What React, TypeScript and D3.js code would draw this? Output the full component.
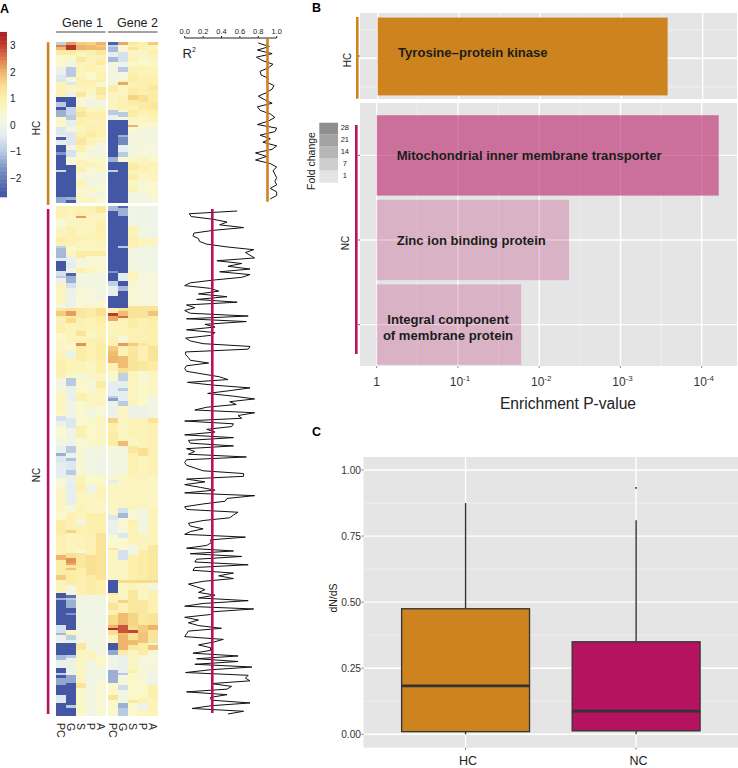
import React from 'react'
import * as d3 from 'd3'

type Run = [number, number]

// heat map runs: [row where the run stops, z score]
const hcGene1: Run[][] = [
  [[1,-.9],[2,2.4],[3,1.9],[5,1.1],[10,.45],[13,-.2],[16,-.5],[22,.85],[24,-2.6],[26,-1],[27,-2.6],[30,-1.3],[34,.5],[37,-.5],[38,-.1],[39,-2.5],[41,-.3],[44,-2.6],[45,-1.6],[51,-2.6],[52,-.7],[62,-2.6],[64,-1.4]],
  [[1,2.2],[3,3.1],[5,1.1],[7,.5],[10,.1],[14,-1],[16,.2],[17,-.5],[20,.6],[22,-.1],[26,-2.6],[29,-.8],[31,-1],[34,-.3],[36,.1],[41,-.5],[43,.1],[46,-.6],[49,.2],[62,-2.6],[63,-1.3],[64,-2.5]],
  [[1,1.7],[3,2],[4,1.1],[6,.7],[8,1.2],[12,.8],[14,.6],[18,.9],[20,.7],[22,1.2],[26,.3],[28,1.1],[30,1.3],[33,1],[36,.7],[38,.9],[41,1.2],[44,.9],[47,.4],[50,.7],[52,.9],[55,.2],[58,.8],[60,.3],[64,.5]],
  [[1,1.6],[3,1.9],[5,1],[9,.8],[12,.9],[15,.5],[18,.9],[21,.6],[23,.3],[26,0],[28,.7],[31,1],[33,.8],[36,.9],[38,1.1],[41,.8],[43,.3],[46,.1],[48,.5],[50,.8],[53,.3],[58,.1],[60,.5],[62,.2],[64,.6]],
  [[1,2],[2,1.7],[3,1.9],[5,1.2],[7,.9],[9,1.1],[12,.7],[16,.9],[18,.5],[21,1.2],[23,.9],[26,.1],[28,.8],[30,1],[38,.9],[40,.7],[43,.2],[46,.1],[49,.5],[52,.6],[57,.1],[60,.3],[62,.1],[64,.4]],
]
const hcGene2: Run[][] = [
  [[1,-2.4],[2,-.8],[4,-1.2],[6,-.3],[8,-1.2],[17,.1],[20,1.1],[27,.7],[29,-1],[31,-.2],[46,-2.6],[48,-1.3],[51,-2.6],[52,-.9],[64,-2.6]],
  [[1,2.1],[4,.3],[8,-.6],[10,-.1],[12,-1],[15,.2],[16,.6],[17,2.1],[22,.7],[27,.9],[28,.3],[30,-1],[31,.2],[37,-2.6],[38,-1.3],[41,-1.8],[44,-.3],[46,-1],[48,.4],[64,-2.6]],
  [[1,1.2],[2,1],[3,1.3],[6,.6],[8,.8],[10,.5],[13,.9],[16,1.1],[18,.9],[21,1.1],[23,1.6],[25,1.1],[27,.8],[30,1.1],[32,.7],[33,.2],[34,2],[36,.4],[46,.1],[48,.5],[49,1],[51,1.1],[53,.8],[55,1.1],[58,.6],[60,.8],[64,.1]],
  [[1,1],[3,.9],[6,.6],[9,.4],[13,.8],[17,.9],[21,1],[24,1.4],[27,1.1],[29,.9],[32,.6],[34,.5],[38,.1],[46,.2],[49,.7],[52,.9],[55,.6],[60,.3],[64,.1]],
  [[1,1.7],[3,.8],[5,1],[8,.7],[10,.5],[14,.8],[17,1],[19,1.2],[24,1.1],[27,1.2],[29,1],[32,.8],[34,.4],[40,.1],[46,.2],[48,.5],[52,.8],[56,.7],[60,.4],[62,.5],[64,.2]],
]
const ncGene1: Run[][] = [
  [[5,.9],[9,.3],[13,.8],[14,1.1],[16,.9],[17,-.9],[21,-1.2],[22,-.4],[26,-2.6],[28,-.6],[29,-1],[31,-.1],[39,.7],[41,.1],[42,1.2],[44,1.7],[45,1.1],[48,.9],[51,1],[54,.5],[58,.6],[62,.8],[66,1],[69,.9],[74,.1],[82,.7],[84,.5],[86,-.6],[88,-.2],[93,.4],[96,.1],[99,-.2],[100,-1.3],[103,-.5],[109,-.4],[113,.3],[123,.6],[126,.4],[132,1.1],[140,.9],[142,2],[148,1.1],[150,1.7],[155,.8],[157,-2.6],[158,-1.3],[168,-2.6],[171,-.6],[172,-1.2],[175,-.1],[180,-2.6],[182,-1.2],[185,-.2],[187,-2.6],[188,-.9],[189,-2.6],[192,-1.4],[196,-2.6],[199,-.5],[204,-2.6]],
  [[4,.8],[8,.6],[16,.9],[18,.5],[20,.6],[23,-.2],[25,-.4],[27,0],[28,-2.4],[31,-1.3],[33,-.6],[41,-.1],[42,1.3],[44,2.2],[45,1.1],[47,1.5],[55,.8],[58,.5],[61,-.2],[67,.8],[69,.5],[72,-1],[78,-.2],[85,0],[89,-.5],[96,0],[99,-1],[101,-.1],[102,-1.1],[106,-.5],[108,-1],[111,-.2],[120,-.3],[123,.3],[130,.9],[131,1.6],[139,.7],[141,1.4],[143,2.3],[144,2.1],[145,1.2],[146,1.8],[152,1.1],[156,.1],[157,-2.2],[158,-1],[161,-1.3],[163,-2.6],[164,-1.6],[170,-2.6],[172,.6],[174,-.9],[175,-.3],[180,-2.6],[181,-1],[188,-.1],[191,-1.4],[200,-2.6],[201,-1],[204,-2.6]],
  [[4,.9],[5,2.2],[12,.7],[14,.9],[18,.7],[21,1.1],[25,.2],[27,1],[33,.1],[37,.3],[41,.4],[45,1.2],[50,.9],[52,1.3],[55,.8],[56,2.3],[62,1.1],[67,.8],[69,.1],[75,.5],[78,1],[88,.4],[89,1],[93,.9],[108,.3],[111,.8],[114,1],[120,.7],[126,.8],[128,.1],[132,.9],[138,.8],[139,.2],[145,1.2],[150,1],[156,.9],[165,.05],[175,.1],[178,1.2],[191,.6],[193,1.3],[204,.5]],
  [[3,.9],[10,.7],[14,.8],[18,.6],[20,1.1],[24,.3],[27,.6],[33,.1],[40,.2],[41,.6],[45,1.1],[50,.8],[53,.6],[62,.9],[69,.6],[74,.3],[81,.6],[85,.1],[96,.5],[108,.05],[112,.4],[115,-.05],[123,.6],[131,1],[140,.9],[148,1.4],[156,1.1],[178,.05],[182,.7],[191,.05],[204,.1]],
  [[3,1.2],[6,.7],[10,1],[14,.9],[18,.7],[20,1.1],[24,.3],[27,.5],[38,.1],[41,.4],[44,1.4],[47,1.1],[55,.9],[62,1.1],[67,1],[70,.6],[73,1.1],[80,.7],[84,.3],[96,.6],[100,.1],[108,0],[112,.5],[118,.8],[123,.6],[131,1],[150,1.3],[156,1],[170,.05],[180,.1],[185,.5],[190,.05],[204,.3]],
]
const ncGene2: Run[][] = [
  [[2,-1.2],[26,-2.6],[27,-1.6],[30,-2.6],[32,-.9],[36,-.3],[41,-2.6],[43,.9],[44,3],[46,2.1],[52,.7],[56,.9],[58,1.7],[60,1.9],[63,2],[66,.9],[70,.5],[76,-.4],[77,-.9],[78,-1.5],[85,-.1],[87,1.6],[90,1],[96,1.1],[100,.2],[108,.1],[110,.3],[111,-.4],[124,.6],[126,-.5],[132,-.2],[137,.4],[138,1.2],[150,.6],[155,-2.6],[156,1.1],[159,.8],[162,1.3],[164,.9],[168,1.5],[169,2],[170,3.2],[172,1.4],[175,.8],[178,-2.6],[180,-1.4],[186,0],[191,-1.3],[196,.5],[198,1.3],[204,.5]],
  [[1,-2.4],[4,-1.3],[16,-2.6],[17,-1],[27,-2.6],[30,-.4],[32,-2.6],[34,-1.2],[41,-2.6],[42,1.3],[44,1.9],[45,2.6],[52,.8],[55,.3],[56,2.2],[60,.9],[65,1.9],[67,1.4],[70,-.9],[73,-.3],[74,-1],[78,-.4],[80,-1],[94,.6],[96,1.9],[108,.1],[121,.6],[123,-.6],[125,-1.2],[131,.3],[133,-.5],[138,.4],[142,-.6],[150,.6],[151,1.5],[158,.6],[159,1.6],[163,.9],[168,1.9],[171,2.8],[172,1.9],[178,2],[180,1.1],[187,-.2],[188,-1],[192,.2],[194,-.7],[199,.1],[201,-1.3],[204,-1]],
  [[8,.05],[12,.8],[17,.9],[26,.1],[30,.7],[40,.3],[45,1.3],[49,1.1],[55,.9],[56,1.7],[59,1.2],[66,1.3],[80,.7],[85,-.1],[93,.8],[96,.6],[99,1.2],[108,.9],[122,.7],[126,.3],[128,1],[136,.8],[140,.1],[150,1],[151,1.5],[154,.8],[163,1.2],[168,1.6],[170,1.5],[171,2.9],[174,1.4],[176,1.9],[178,1.2],[186,.6],[187,1],[198,.5],[199,1.2],[204,.4]],
  [[8,0],[13,.1],[16,.7],[27,.05],[40,.2],[45,1.3],[55,.9],[56,1.2],[62,.9],[66,1.2],[71,.3],[80,.5],[85,-.1],[97,.8],[100,1.4],[108,.7],[121,.7],[131,.1],[138,.7],[150,1.1],[151,1.5],[158,.6],[168,1.2],[171,1.7],[175,1.8],[180,1.1],[186,.2],[192,.3],[197,.5],[199,.9],[202,-.05],[204,.6]],
  [[13,0],[16,.7],[27,.05],[40,.2],[42,1.3],[44,1.8],[46,1.1],[56,1],[62,1.3],[66,1.1],[76,.6],[85,.05],[87,1.3],[108,.9],[121,.6],[136,.8],[150,1.2],[151,1.5],[154,.1],[163,.9],[168,1.3],[170,2],[175,1.3],[176,.1],[178,1.8],[186,.2],[192,0],[197,1],[204,.8]],
]
const tissues = ['PC', 'G', 'S', 'P', 'A']
const colorTicks = [3, 2, 1, 0, -1, -2]

const hcR2 = [.8,.92,.79,.95,.78,.85,.96,.91,.82,.83,.91,.89,.97,.95,.89,.8,.87,.95,.79,.82,.93,.98,.91,.79,1,.98,.82,.93,.85,1,.95,.77,.89,.77,.93,1,.96,.98,1,.98,1,.93,1,1,.93]
const ncR2 = [
  .57,.05,.07,.31,.46,.38,.64,.31,.1,.09,.15,.16,.24,.46,.75,.66,.71,.76,.35,.62,.47,.71,.38,.71,.62,.31,.06,0,.28,.37,.15,.46,.13,.57,.02,
  .11,0,.06,.69,.02,.67,.22,.33,.02,.33,.28,.01,.06,.2,.71,.69,.01,.01,.04,.06,.26,.02,0,.02,.2,.38,.47,.03,.31,.71,.49,.25,.53,.76,.49,.56,.24,.11,.76,.58,.62,0,.53,.51,.24,.33,0,.53,.04,.06,.53,.02,.11,.04,.67,.02,0,.02,.11,.2,.64,.64,
  .02,.22,0,.17,.33,0,.76,.46,.44,.2,0,.02,.58,.53,.49,.2,.04,.06,.2,.06,0,.66,.28,.29,.24,.02,.53,.06,.62,.13,.11,.69,.11,.09,.53,.37,.53,.2,.04,.13,.22,.15,.33,.15,.69,.2,0,.75,.31,.28,0,.15,.04,.15,.4,.04,.02,0,.42,.31,.15,.28,.28,.09,.58,.13,.58,.11,.73,.28,.01,.69,.66,.71,.29,.51,.46,.02,.46,.28,.29,.71,.29,.08,.64,.47,
]
const r2Ticks = [0, .2, .4, .6, .8, 1]
const hcMeanR2 = .9
const ncMeanR2 = .3

const hcTerms = ['Tyrosine\u2013protein kinase']
const ncTerms = ['Mitochondrial inner membrane transporter', 'Zinc ion binding protein', 'Integral component of membrane protein']
const hcEnrich = [3700]
const ncEnrich = [16200, 233, 60]
const ncOpacity = [.56, .24, .24]
const enrichTicks = [1, 10, 100, 1000, 10000]
const enrichMinor = [3.162, 31.62, 316.2, 3162, 31620]
const enrichLabels = ['', '-1', '-2', '-3', '-4']
const foldLevels = ['28', '21', '14', '7', '1']
const foldGreys = ['#8f8f8f', '#a2a2a2', '#b6b6b6', '#cecece', '#e4e4e4']

const groups = ['HC', 'NC']
const boxStats = [
  { low: 0, q1: .01, med: .183, q3: .475, high: .875, out: [] as number[] },
  { low: 0, q1: .013, med: .088, q3: .35, high: .81, out: [.932] },
]
const dnTicks = [0, .25, .5, .75, 1]
const dnMinor = [.125, .375, .625, .875]

const ORANGE = '#cd831e'
const MAGENTA = '#b5135f'
const PANEL = '#e5e5e5'
const FONT = '"Liberation Sans", Arial, sans-serif'

const heatColor = d3.scaleLinear<string>()
  .domain([-2.6, -1.6, -1, -.4, 0, .4, 1, 1.5, 2, 2.5, 3, 3.45])
  .range(['#4357a5', '#7f95c4', '#b9cbe2', '#e4edf0', '#f0f4e6', '#f9f8cf', '#fcf0ac', '#f8dc8c', '#eeb46c', '#d8784a', '#c23a2b', '#a51e22'])
  .clamp(true)

const expand = (runs: Run[]) => {
  const out: number[] = []
  runs.forEach(([end, v]) => { while (out.length < end) out.push(v) })
  return out
}

const HeatBlock = ({ cols, x, y }: { cols: Run[][]; x: d3.ScaleBand<string>; y: d3.ScaleBand<number> }) => (
  <g shapeRendering="crispEdges">
    {cols.map((runs, c) => expand(runs).map((v, r) => (
      <rect key={`${c}-${r}`} x={x(tissues[c])} y={y(r)} width={x.bandwidth()} height={y.bandwidth() + .5} fill={heatColor(v)} />
    )))}
  </g>
)

const PanelA = () => {
  const xG1 = d3.scaleBand<string>().domain(tissues).range([55.5, 105.5])
  const xG2 = d3.scaleBand<string>().domain(tissues).range([107.5, 157.5])
  const yHC = d3.scaleBand<number>().domain(d3.range(64)).range([42, 202])
  const yNC = d3.scaleBand<number>().domain(d3.range(204)).range([206, 715])
  const zAxis = d3.scaleLinear().domain([3, -2]).range([45.5, 178.5])
  const zBins = d3.range(-2.7, 3.46, .05)
  const r2 = d3.scaleLinear().domain([0, 1]).range([184.7, 276.7])
  const yHcLine = d3.scaleLinear().domain([0, hcR2.length - 1]).range([43, 199])
  const yNcLine = d3.scaleLinear().domain([0, ncR2.length - 1]).range([211, 714])
  const hcPath = d3.line<number>().x(d => r2(d)).y((_, i) => yHcLine(i))(hcR2) as string
  const ncPath = d3.line<number>().x(d => r2(d)).y((_, i) => yNcLine(i))(ncR2) as string

  return (
    <g>
      <text x={0} y={13} fontSize={12.5} fontWeight="bold">A</text>
      {zBins.map(z => (
        <rect key={z} x={0} y={zAxis(z) - 1.6} width={7} height={1.8} fill={heatColor(z)} />
      ))}
      {colorTicks.map(t => (
        <text key={t} x={10} y={zAxis(t)} dy=".35em" fontSize={10} fill="#222">{t < 0 ? `\u2212${-t}` : t}</text>
      ))}

      <text x={82.5} y={27} textAnchor="middle" fontSize={12.5} fill="#222">Gene 1</text>
      <text x={137.5} y={27} textAnchor="middle" fontSize={12.5} fill="#222">Gene 2</text>
      <line x1={56} x2={105.5} y1={32} y2={32} stroke="#444" />
      <line x1={108} x2={157.5} y1={32} y2={32} stroke="#444" />

      <rect x={46.8} y={42.3} width={2.6} height={162.7} fill={ORANGE} />
      <rect x={46.8} y={209} width={2.6} height={505} fill={MAGENTA} />
      <text transform="translate(40,128) rotate(-90)" textAnchor="middle" fontSize={10} fill="#222">HC</text>
      <text transform="translate(40,475) rotate(-90)" textAnchor="middle" fontSize={10} fill="#222">NC</text>

      <HeatBlock cols={hcGene1} x={xG1} y={yHC} />
      <HeatBlock cols={hcGene2} x={xG2} y={yHC} />
      <HeatBlock cols={ncGene1} x={xG1} y={yNC} />
      <HeatBlock cols={ncGene2} x={xG2} y={yNC} />

      {[xG1, xG2].map((x, k) => tissues.map(t => (
        <text key={`${k}${t}`} transform={`translate(${(x(t) as number) + x.bandwidth() / 2 - 3.5},723) rotate(90)`} fontSize={10.5} fill="#222">{t}</text>
      )))}

      <line x1={r2(0)} x2={r2(1)} y1={38} y2={38} stroke="#222" />
      {r2Ticks.map(t => (
        <g key={t}>
          <line x1={r2(t)} x2={r2(t)} y1={36} y2={38} stroke="#222" />
          <text x={r2(t)} y={34} textAnchor="middle" fontSize={7.5} fill="#222">{t.toFixed(1)}</text>
        </g>
      ))}
      <text x={182.5} y={58} fontSize={13} fill="#222">R</text>
      <text x={192} y={52} fontSize={7} fill="#222">2</text>

      <path d={hcPath} fill="none" stroke="#111" strokeWidth={1} />
      <line x1={r2(hcMeanR2)} x2={r2(hcMeanR2)} y1={38} y2={201.7} stroke={ORANGE} strokeWidth={2.6} />
      <path d={ncPath} fill="none" stroke="#111" strokeWidth={1} />
      <line x1={r2(ncMeanR2)} x2={r2(ncMeanR2)} y1={209} y2={713} stroke={MAGENTA} strokeWidth={2.6} />
    </g>
  )
}

const PanelB = () => {
  const x = d3.scaleLog().domain([1, 10000]).range([376.7, 701.7])
  const yHC = d3.scaleBand<string>().domain(hcTerms).range([13.5, 99.5]).padding(.05)
  const yNC = d3.scaleBand<string>().domain(ncTerms).range([111, 369]).padding(.05)
  const hcMid = (yHC(hcTerms[0]) as number) + yHC.bandwidth() / 2
  const ncMid = (t: string) => (yNC(t) as number) + yNC.bandwidth() / 2

  return (
    <g fontFamily={FONT}>
      <text x={312} y={12} fontSize={12.5} fontWeight="bold">B</text>
      <rect x={360} y={13} width={377} height={86} fill={PANEL} />
      <rect x={360} y={103} width={377} height={263} fill={PANEL} />

      {enrichMinor.map(t => t < 16000 && (
        <g key={t} stroke="#f1f1f1" strokeWidth={.8}>
          <line x1={x(t) + 1} x2={x(t) + 1} y1={13} y2={99} />
          <line x1={x(t)} x2={x(t)} y1={103} y2={366} />
        </g>
      ))}
      {enrichTicks.map(t => (
        <g key={t} stroke="#fff" strokeWidth={1.4}>
          <line x1={x(t) + 1} x2={x(t) + 1} y1={13} y2={99} />
          <line x1={x(t)} x2={x(t)} y1={103} y2={366} />
        </g>
      ))}
      <g stroke="#f4f4f4" strokeWidth={.8}>
        <line x1={360} x2={737} y1={30} y2={30} />
        <line x1={360} x2={737} y1={87} y2={87} />
      </g>
      <line x1={360} x2={737} y1={58.3} y2={58.3} stroke="#fff" strokeWidth={1.4} />
      {ncTerms.map(t => (
        <line key={t} x1={360} x2={737} y1={ncMid(t)} y2={ncMid(t)} stroke="#fff" strokeWidth={1.4} />
      ))}

      <rect x={x(1) + 1} y={yHC(hcTerms[0])} width={x(hcEnrich[0]) - x(1)} height={yHC.bandwidth()} fill={ORANGE} />
      {ncTerms.map((t, i) => (
        <rect key={t} x={x(1)} y={yNC(t)} width={x(ncEnrich[i]) - x(1)} height={yNC.bandwidth()} fill={MAGENTA} fillOpacity={ncOpacity[i]} />
      ))}

      <g fontSize={13.1} fontWeight="bold" fill="#1d1d1b">
        <text x={398} y={hcMid - 4} dy=".35em">{hcTerms[0]}</text>
        <text x={396.7} y={ncMid(ncTerms[0])} dy=".35em">{ncTerms[0]}</text>
        <text x={396.7} y={ncMid(ncTerms[1])} dy=".35em">{ncTerms[1]}</text>
        <text x={448} y={324} textAnchor="middle">Integral component</text>
        <text x={448} y={339.5} textAnchor="middle">of membrane protein</text>
      </g>

      <rect x={356} y={17} width={2.6} height={81.7} fill={ORANGE} />
      <rect x={355} y={125} width={2.6} height={229} fill={MAGENTA} />
      {[56, ...ncTerms.map(ncMid)].map(v => (
        <line key={v} x1={358} x2={360} y1={v} y2={v} stroke="#555" strokeWidth={.8} />
      ))}
      <text transform="translate(350.5,60) rotate(-90)" textAnchor="middle" fontSize={10} fill="#222">HC</text>
      <text transform="translate(349,243) rotate(-90)" textAnchor="middle" fontSize={10} fill="#222">NC</text>

      <text transform="translate(314.5,161) rotate(-90)" textAnchor="middle" fontSize={10.5} fill="#222">Fold change</text>
      {foldLevels.map((f, i) => (
        <g key={f}>
          <rect x={319.3} y={122.7 + i * 12} width={18.7} height={12} fill={foldGreys[i]} />
          <text x={344.8} y={127.6 + i * 12} dy=".35em" textAnchor="middle" fontSize={7.5} fill="#222">{f}</text>
        </g>
      ))}

      {enrichTicks.map((t, i) => (
        <g key={t}>
          <line x1={x(t)} x2={x(t)} y1={366} y2={368} stroke="#666" strokeWidth={.8} />
          <text x={x(t) + (i > 0 ? 2 : 0)} y={386} textAnchor="middle" fontSize={12} fill="#333">
            {i === 0 ? '1' : '10'}
            {i > 0 && <tspan dy={-5} fontSize={8}>{enrichLabels[i]}</tspan>}
          </text>
        </g>
      ))}
      <text x={568} y={409} textAnchor="middle" fontSize={15.6} fill="#222">Enrichment P-value</text>
    </g>
  )
}

const PanelC = () => {
  const y = d3.scaleLinear().domain([0, 1]).range([734.3, 470])
  const x = d3.scaleBand<string>().domain(groups).range([380.3, 721.4]).paddingInner(.25).paddingOuter(.125)
  const mid = (g: string) => (x(g) as number) + x.bandwidth() / 2

  return (
    <g fontFamily={FONT}>
      <text x={312} y={436} fontSize={12.5} fontWeight="bold">C</text>
      <rect x={363.5} y={457} width={374.5} height={290.7} fill={PANEL} />
      {dnMinor.map(t => (
        <line key={t} x1={363.5} x2={738} y1={y(t)} y2={y(t)} stroke="#f2f2f2" strokeWidth={.8} />
      ))}
      {dnTicks.map(t => (
        <g key={t}>
          <line x1={363.5} x2={738} y1={y(t)} y2={y(t)} stroke="#fff" strokeWidth={1.4} />
          <line x1={361.5} x2={363.5} y1={y(t)} y2={y(t)} stroke="#555" strokeWidth={.8} />
          <text x={361} y={y(t)} dy=".35em" textAnchor="end" fontSize={10.2} fill="#333">{t.toFixed(2)}</text>
        </g>
      ))}
      {groups.map(g => (
        <g key={g}>
          <line x1={mid(g)} x2={mid(g)} y1={457} y2={747.7} stroke="#fff" strokeWidth={1.4} />
          <line x1={mid(g)} x2={mid(g)} y1={747.7} y2={749.7} stroke="#555" strokeWidth={.8} />
          <text x={mid(g) + 2.5} y={764.5} textAnchor="middle" fontSize={12.5} fill="#222">{g}</text>
        </g>
      ))}
      {boxStats.map((b, i) => {
        const g = groups[i]
        return (
          <g key={g} stroke="#333">
            <line x1={mid(g)} x2={mid(g)} y1={y(b.high)} y2={y(b.q3)} strokeWidth={1.4} />
            <line x1={mid(g)} x2={mid(g)} y1={y(b.q1)} y2={y(b.low)} strokeWidth={1.4} />
            <rect x={x(g)} y={y(b.q3)} width={x.bandwidth()} height={y(b.q1) - y(b.q3)} fill={i === 0 ? ORANGE : MAGENTA} strokeWidth={1.3} />
            <line x1={x(g)} x2={(x(g) as number) + x.bandwidth()} y1={y(b.med)} y2={y(b.med)} strokeWidth={2.7} />
            {b.out.map(o => <circle key={o} cx={mid(g)} cy={y(o)} r={.9} fill="#222" stroke="none" />)}
          </g>
        )
      })}
      <text transform="translate(337,598) rotate(-90)" textAnchor="middle" fontSize={10.5} fill="#222">dN/dS</text>
    </g>
  )
}

export default function App() {
  return (
    <svg width={738} height={768} style={{ position: 'absolute', left: 0, top: 0 }} fontFamily={FONT}>
      <PanelA />
      <PanelB />
      <PanelC />
    </svg>
  )
}
